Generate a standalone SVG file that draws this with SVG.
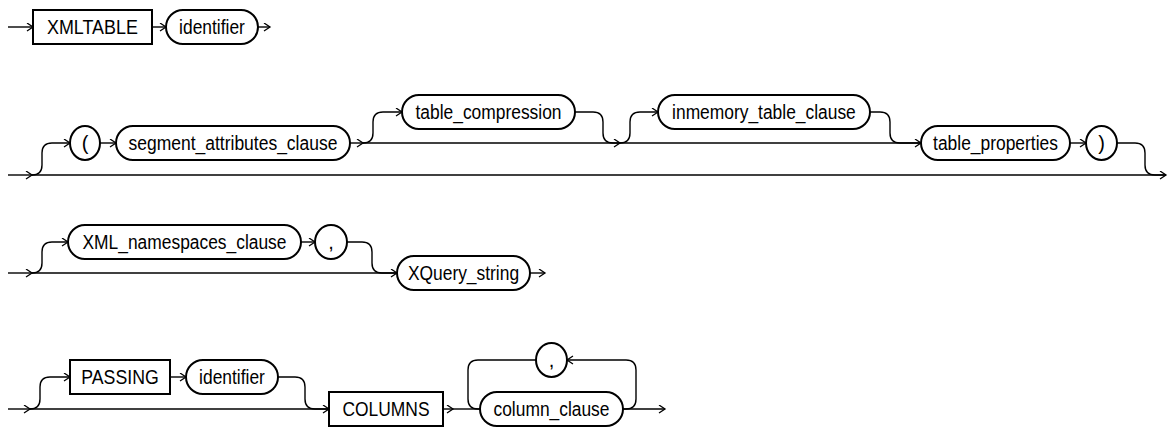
<svg xmlns="http://www.w3.org/2000/svg" width="1175" height="427" viewBox="0 0 1175 427">
<defs>
<style>
.n{fill:#fff;stroke:#000;stroke-width:2}
.t{font-family:"Liberation Sans",Arial,sans-serif;font-size:20px;fill:#000}
.c{text-anchor:middle}
.l{fill:none;stroke:#000;stroke-width:1.4}
.a{marker-end:url(#arr)}
</style>
<marker id="arr" markerWidth="10" markerHeight="10" refX="7" refY="4.5" orient="auto" markerUnits="userSpaceOnUse">
<path d="M1,0.5 L7,4.5 L1,8.5" fill="none" stroke="#000" stroke-width="1.3"/>
</marker>
</defs>
<rect width="1175" height="427" fill="#fff"/>
<g id="connectors">
<path class="l a" d="M8,27 H33"/>
<path class="l a" d="M152,27 H166"/>
<path class="l a" d="M258,27 H270"/>
<path class="l a" d="M8,175 H32"/>
<path class="l a" d="M32,175 H1166"/>
<path class="l a" d="M32,175 Q42,175 42,165 V153 Q42,143 52,143 H70"/>
<path class="l a" d="M100,143 H116"/>
<path class="l a" d="M350,143 H363"/>
<path class="l a" d="M363,143 H620"/>
<path class="l a" d="M620,143 H921"/>
<path class="l a" d="M363,143 Q373,143 373,133 V122 Q373,112 383,112 H402"/>
<path class="l" d="M575,112 H593 Q603,112 603,122 V133 Q603,143 613,143 H620"/>
<path class="l a" d="M620,143 Q630,143 630,133 V122 Q630,112 640,112 H658"/>
<path class="l" d="M870,112 H880 Q890,112 890,122 V133 Q890,143 900,143 H921"/>
<path class="l a" d="M1070,143 H1086"/>
<path class="l" d="M1117,143 H1135 Q1145,143 1145,153 V165 Q1145,175 1155,175 H1166"/>
<path class="l a" d="M8,273 H32"/>
<path class="l a" d="M32,273 H397"/>
<path class="l a" d="M32,273 Q42,273 42,263 V252 Q42,242 52,242 H68"/>
<path class="l a" d="M301,242 H315"/>
<path class="l" d="M347,242 H362 Q372,242 372,252 V263 Q372,273 382,273 H397"/>
<path class="l a" d="M530,273 H545"/>
<path class="l a" d="M8,409 H30"/>
<path class="l a" d="M30,409 H329"/>
<path class="l a" d="M30,409 Q40,409 40,399 V387 Q40,377 50,377 H70"/>
<path class="l a" d="M170,377 H186"/>
<path class="l" d="M278,377 H295 Q305,377 305,387 V399 Q305,409 315,409 H329"/>
<path class="l a" d="M443,409 H453"/>
<path class="l" d="M453,409 H480"/>
<path class="l a" d="M623,409 H665"/>
<path class="l a" d="M623,409 H626 Q636,409 636,399 V370 Q636,360 626,360 H567"/>
<path class="l" d="M536,360 H478 Q468,360 468,370 V399 Q468,409 478,409 H480"/>
</g>
<g id="xmltable"><rect class="n" x="33" y="10" width="119" height="34"/><text class="t" x="47" y="34" textLength="90.9" lengthAdjust="spacingAndGlyphs">XMLTABLE</text></g>
<g id="identifier1"><rect class="n" x="166" y="10" width="92" height="34" rx="17"/><text class="t" x="179.1" y="34" textLength="65.8" lengthAdjust="spacingAndGlyphs">identifier</text></g>
<g id="lparen"><rect class="n" x="70" y="126" width="30" height="34" rx="15" ry="17"/><text class="t c" x="85" y="150">(</text></g>
<g id="segment_attributes_clause"><rect class="n" x="116" y="126" width="234" height="34" rx="17"/><text class="t" x="128.5" y="150" textLength="208.9" lengthAdjust="spacingAndGlyphs">segment_attributes_clause</text></g>
<g id="table_compression"><rect class="n" x="402" y="95" width="173" height="34" rx="17"/><text class="t" x="415.5" y="119" textLength="146" lengthAdjust="spacingAndGlyphs">table_compression</text></g>
<g id="inmemory_table_clause"><rect class="n" x="658" y="95" width="212" height="34" rx="17"/><text class="t" x="672.1" y="119" textLength="183.7" lengthAdjust="spacingAndGlyphs">inmemory_table_clause</text></g>
<g id="table_properties"><rect class="n" x="921" y="126" width="149" height="34" rx="17"/><text class="t" x="933.1" y="150" textLength="124.8" lengthAdjust="spacingAndGlyphs">table_properties</text></g>
<g id="rparen"><rect class="n" x="1086" y="126" width="31" height="34" rx="15.5" ry="17"/><text class="t c" x="1101.5" y="150">)</text></g>
<g id="xml_namespaces_clause"><rect class="n" x="68" y="225" width="233" height="34" rx="17"/><text class="t" x="82.5" y="249" textLength="204" lengthAdjust="spacingAndGlyphs">XML_namespaces_clause</text></g>
<g id="comma1"><rect class="n" x="315" y="225" width="32" height="34" rx="16" ry="17"/><text class="t c" x="331" y="249">,</text></g>
<g id="xquery_string"><rect class="n" x="397" y="256" width="133" height="34" rx="17"/><text class="t" x="407.9" y="280" textLength="111.2" lengthAdjust="spacingAndGlyphs">XQuery_string</text></g>
<g id="passing"><rect class="n" x="70" y="360" width="100" height="34"/><text class="t" x="81.3" y="384" textLength="77.4" lengthAdjust="spacingAndGlyphs">PASSING</text></g>
<g id="identifier2"><rect class="n" x="186" y="360" width="92" height="34" rx="17"/><text class="t" x="199.1" y="384" textLength="65.8" lengthAdjust="spacingAndGlyphs">identifier</text></g>
<g id="columns"><rect class="n" x="329" y="392" width="114" height="34"/><text class="t" x="342.5" y="416" textLength="87" lengthAdjust="spacingAndGlyphs">COLUMNS</text></g>
<g id="column_clause"><rect class="n" x="480" y="392" width="143" height="34" rx="17"/><text class="t" x="493.5" y="416" textLength="116" lengthAdjust="spacingAndGlyphs">column_clause</text></g>
<g id="comma2"><rect class="n" x="536" y="343" width="31" height="34" rx="15.5" ry="17"/><text class="t c" x="551.5" y="367">,</text></g>
</svg>
